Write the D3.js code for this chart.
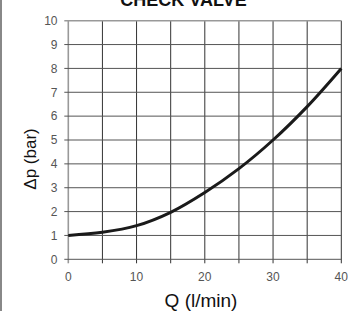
<!DOCTYPE html>
<html lang="en">
    <head>
        <meta charset="utf-8">
        <title>Check Valve</title>
        <script type="text/javascript" src="https://cdn.jsdelivr.net/npm/d3@7"></script>
        <style type="text/css">
            body { margin: 0; background: #fff; }
            svg { display: block; font-family: Arial, "Liberation Sans", sans-serif; }
        </style>
    </head>
    <body>
        <script type="text/javascript">

            //Width and height
            var w = 348;
            var h = 311;

            //Data
            var flow = [0, 5, 10, 15, 20, 25, 30, 35, 40];          // Q (l/min)
            var pressure = [1.0, 1.13, 1.41, 1.97, 2.8, 3.8, 5.0, 6.4, 8.0];  // dp (bar)
            var xTicks = [0, 5, 10, 15, 20, 25, 30, 35, 40];
            var xLabels = [0, 10, 20, 30, 40];
            var yTicks = [0, 1, 2, 3, 4, 5, 6, 7, 8, 9, 10];

            //Plot area  (careful: "top" is taken by window.top)
            var plotL = 68.3, plotR = 341.3, plotT = 20.7, plotB = 259.3;

            var x = d3.scaleLinear().domain([0, 40]).range([plotL, plotR]);
            var y = d3.scaleLinear().domain([0, 10]).range([plotB, plotT]);

            var svg = d3.select("body")
                        .append("svg")
                        .attr("width", w)
                        .attr("height", h);

            //left page border
            svg.append("line")
                .attr("x1", 1).attr("x2", 1)
                .attr("y1", 0).attr("y2", h)
                .attr("stroke", "#888")
                .attr("stroke-width", 2);

            //title (cut at the top)
            svg.append("text")
                .text("CHECK VALVE")
                .attr("x", 183.5)
                .attr("y", 6)
                .attr("text-anchor", "middle")
                .attr("font-weight", "bold")
                .attr("font-size", 18)
                .attr("fill", "#111");

            //vertical grid
            svg.selectAll(".vgrid")
                .data(xTicks)
                .enter()
                .append("line")
                .attr("class", "vgrid")
                .attr("x1", function(d) { return x(d); })
                .attr("x2", function(d) { return x(d); })
                .attr("y1", plotT)
                .attr("y2", plotB + 4)
                .attr("stroke", function(d) { return d === 0 ? "#999" : "#333"; })
                .attr("stroke-width", function(d) { return d === 0 ? 1.6 : 1; });

            //horizontal grid
            svg.selectAll(".hgrid")
                .data(yTicks)
                .enter()
                .append("line")
                .attr("class", "hgrid")
                .attr("x1", plotL - 4)
                .attr("x2", plotR)
                .attr("y1", function(d) { return y(d); })
                .attr("y2", function(d) { return y(d); })
                .attr("stroke", function(d) { return d === 10 ? "#999" : "#555"; })
                .attr("stroke-width", function(d) { return d === 10 ? 1.6 : 1; });

            //y tick labels
            svg.selectAll(".ylab")
                .data(yTicks)
                .enter()
                .append("text")
                .attr("class", "ylab")
                .text(function(d) { return d; })
                .attr("x", 57.5)
                .attr("y", function(d) { return y(d) + 4.3; })
                .attr("text-anchor", "end")
                .attr("font-size", 12)
                .attr("fill", "#555");

            //x tick labels
            svg.selectAll(".xlab")
                .data(xLabels)
                .enter()
                .append("text")
                .attr("class", "xlab")
                .text(function(d) { return d; })
                .attr("x", function(d) { return x(d); })
                .attr("y", 280.5)
                .attr("text-anchor", "middle")
                .attr("font-size", 12)
                .attr("fill", "#555");

            //axis titles
            svg.append("text")
                .text("\u0394p (bar)")
                .attr("transform", "translate(36,159) rotate(-90)")
                .attr("text-anchor", "middle")
                .attr("font-size", 17)
                .attr("fill", "#111");

            svg.append("text")
                .text("Q (l/min)")
                .attr("x", 201)
                .attr("y", 307)
                .attr("text-anchor", "middle")
                .attr("font-size", 19)
                .attr("fill", "#111");

            //curve
            var line = d3.line()
                .x(function(d, i) { return x(flow[i]); })
                .y(function(d) { return y(d); })
                .curve(d3.curveCatmullRom);

            svg.append("path")
                .datum(pressure)
                .attr("d", line)
                .attr("fill", "none")
                .attr("stroke", "#1a1a1a")
                .attr("stroke-width", 3);
        </script>
    </body>
</html>
